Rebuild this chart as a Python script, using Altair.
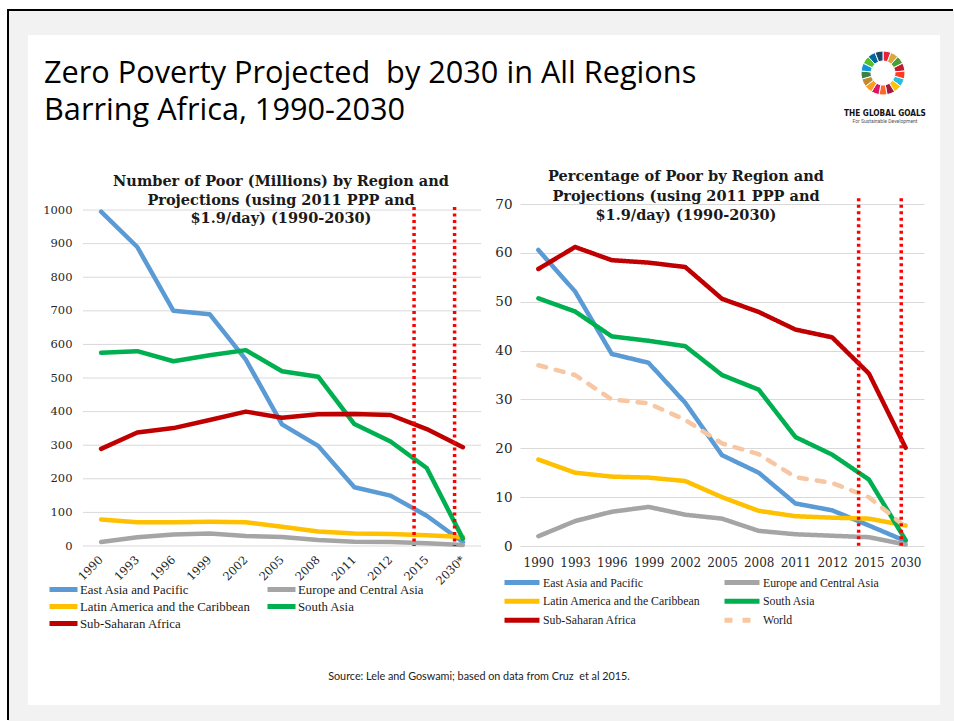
import altair as alt
import pandas as pd

# ---------------- data ----------------
years_left = ["1990", "1993", "1996", "1999", "2002", "2005", "2008", "2011", "2012", "2015", "2030*"]
years_right = ["1990", "1993", "1996", "1999", "2002", "2005", "2008", "2011", "2012", "2015", "2030"]

series_left = ["East Asia and Pacific", "Europe and Central Asia",
               "Latin America and the Caribbean", "South Asia", "Sub-Saharan Africa"]
series_right = series_left + ["World"]

# Number of poor (millions)
poor_eap = [995, 890, 700, 690, 555, 362, 298, 175, 150, 90, 12]
poor_eca = [12, 26, 34, 37, 30, 27, 18, 13, 12, 8, 3]
poor_lac = [79, 71, 71, 72, 71, 57, 43, 37, 36, 32, 27]
poor_sa = [575, 580, 550, 568, 583, 520, 504, 363, 311, 232, 22]
poor_ssa = [289, 338, 351, 375, 400, 382, 392, 393, 390, 348, 294]

# Percentage of poor
pct_eap = [60.6, 52.1, 39.3, 37.5, 29.3, 18.6, 15.0, 8.7, 7.3, 4.2, 1.0]
pct_eca = [2.0, 5.1, 7.0, 8.0, 6.4, 5.6, 3.1, 2.4, 2.1, 1.8, 0.3]
pct_lac = [17.7, 15.0, 14.2, 14.0, 13.3, 10.0, 7.2, 6.1, 5.8, 5.6, 4.2]
pct_sa = [50.7, 48.0, 42.9, 42.0, 40.9, 35.0, 32.0, 22.3, 18.7, 13.6, 1.2]
pct_ssa = [56.7, 61.2, 58.5, 58.0, 57.1, 50.6, 47.9, 44.3, 42.7, 35.3, 20.1]
pct_world = [37.0, 35.0, 30.0, 29.2, 25.8, 21.0, 18.8, 14.1, 12.9, 10.0, 3.9]

ticks_left = list(range(0, 1001, 100))
ticks_right = list(range(0, 71, 10))

# projection markers (position on category axis, top value)
proj_left_pos = [8.65, 9.77]
proj_left_top = [1009, 1009]
proj_right_pos = [8.72, 9.88]
proj_right_top = [71.2, 71.2]

main_title = "Zero Poverty Projected \u00a0by 2030 in All Regions\nBarring Africa, 1990-2030"
left_title = "Number of Poor (Millions) by Region and\nProjections (using 2011 PPP and\n$1.9/day) (1990-2030)"
right_title = "Percentage of Poor by Region and\nProjections (using 2011 PPP and\n$1.9/day) (1990-2030)"
source_text = "Source: Lele and Goswami; based on data from Cruz \u00a0et al 2015."
logo_title = "THE GLOBAL GOALS"
logo_sub = "For Sustainable Development"

# ---------------- styles ----------------
line_colors = ["#5B9BD5", "#A5A5A5", "#FFC000", "#00B050", "#C00000", "#F7C6A3"]
sdg_colors = ["#E5243B", "#DDA63A", "#4C9F38", "#C5192D", "#FF3A21", "#26BDE2",
              "#FCC30B", "#A21942", "#FD6925", "#DD1367", "#FD9D24", "#BF8B2E",
              "#3F7E44", "#0A97D9", "#56C02B", "#00689D", "#19486A"]

OX_L, OY = 83, 204
OX_R = 520
W_L, W_R, H = 398, 404, 342


def px(x):
    return x - OX_L


def py(y):
    return y - OY


def long_df(series, values_list, years):
    rows = []
    for s, vals in zip(series, values_list):
        for i, (yr, v) in enumerate(zip(years, vals)):
            rows.append({"idx": i, "year": yr, "series": s, "value": v})
    return pd.DataFrame(rows)


def label_expr(years):
    return "[" + ",".join("'%s'" % y for y in years) + "][datum.value]"


left_df = long_df(series_left, [poor_eap, poor_eca, poor_lac, poor_sa, poor_ssa], years_left)
right_df = long_df(series_right, [pct_eap, pct_eca, pct_lac, pct_sa, pct_ssa, pct_world], years_right)
proj_left = pd.DataFrame({"pos": proj_left_pos, "top": proj_left_top, "bottom": [0, 0]})
proj_right = pd.DataFrame({"pos": proj_right_pos, "top": proj_right_top, "bottom": [0, 0]})

one = pd.DataFrame({"k": [0]})
SERIF = "DejaVu Serif"

# ---------------- scales & axes ----------------
x_scale_left = alt.Scale(domain=[-0.5, 10.5], nice=False, zero=False)
y_scale_left = alt.Scale(domain=[0, 1018], nice=False, zero=True)
x_scale_right = alt.Scale(domain=[-0.5, 10.5], nice=False, zero=False)
y_scale_right = alt.Scale(domain=[0, 70], nice=False, zero=True)

x_axis_left = alt.Axis(values=list(range(11)), labelExpr=label_expr(years_left),
                       labelAngle=315, labelAlign="right", labelBaseline="middle",
                       labelPadding=12, grid=False, domain=False, ticks=False, tickSize=0,
                       labelFont=SERIF, labelFontSize=11.5, labelColor="#262626",
                       labelOverlap=False, labelFlush=False, title=None, zindex=1)
y_axis_left = alt.Axis(values=ticks_left, format="d", grid=False, domain=False,
                       ticks=False, tickSize=0,
                       labelFont=SERIF, labelFontSize=11.5, labelColor="#262626",
                       labelPadding=11, labelOverlap=False, title=None, zindex=1)
x_axis_right = alt.Axis(values=list(range(11)), labelExpr=label_expr(years_right),
                        labelAngle=0, labelAlign="center", labelBaseline="top",
                        labelPadding=11, grid=False, domain=False, ticks=False, tickSize=0,
                        labelFont=SERIF, labelFontSize=12, labelColor="#262626",
                        labelOverlap=False, labelFlush=False, title=None)
y_axis_right = alt.Axis(values=ticks_right, format="d", grid=True, gridColor="#D9D9D9",
                        gridWidth=1, domain=False, ticks=False, tickSize=0,
                        labelFont=SERIF, labelFontSize=13.5, labelColor="#262626",
                        labelPadding=8, labelOverlap=False, title=None)


def XL(f):
    return alt.X(f + ":Q", scale=x_scale_left, axis=x_axis_left)


def YL(f):
    return alt.Y(f + ":Q", scale=y_scale_left, axis=y_axis_left)


def XR(f):
    return alt.X(f + ":Q", scale=x_scale_right, axis=x_axis_right)


def YR(f):
    return alt.Y(f + ":Q", scale=y_scale_right, axis=y_axis_right)


# ---------------- decorations (drawn in the left panel's layer) ----------------
bg_white = alt.Chart(one).mark_rect(color="white").encode(
    x=alt.value(px(0)), x2=alt.value(px(954)), y=alt.value(py(0)), y2=alt.value(py(721)))
bg_gray = alt.Chart(one).mark_rect(color="#F2F2F2").encode(
    x=alt.value(px(8)), x2=alt.value(px(954)), y=alt.value(py(11)), y2=alt.value(py(721)))
border_top = alt.Chart(one).mark_rule(color="black", strokeWidth=2).encode(
    x=alt.value(px(7)), x2=alt.value(px(953)), y=alt.value(py(10)))
border_left = alt.Chart(one).mark_rule(color="black", strokeWidth=2).encode(
    x=alt.value(px(8)), y=alt.value(py(10)), y2=alt.value(py(720)))
panel = alt.Chart(one).mark_rect(color="white").encode(
    x=alt.value(px(28)), x2=alt.value(px(940)), y=alt.value(py(35)), y2=alt.value(py(705)))

title_main = alt.Chart(pd.DataFrame({"t": [main_title]})).mark_text(
    font="Open Sans", fontSize=30.7, align="left", baseline="alphabetic", lineBreak="\n",
    lineHeight=36.5, color="black").encode(
    text="t:N", x=alt.value(px(44)), y=alt.value(py(83)))

logo_df = pd.DataFrame({"v": [1] * len(sdg_colors), "c": sdg_colors, "o": list(range(len(sdg_colors)))})
logo_arcs = alt.Chart(logo_df).mark_arc(radius=22, radius2=12, stroke="white", strokeWidth=1).encode(
    theta=alt.Theta("v:Q", stack=True),
    order=alt.Order("o:Q"),
    fill=alt.Fill("c:N", scale=None),
    x=alt.value(px(883)), y=alt.value(py(73)))
logo_t = alt.Chart(pd.DataFrame({"t": [logo_title]})).mark_text(
    font="Liberation Sans Narrow, DejaVu Sans Condensed, Roboto", fontSize=8.2, fontWeight="bold",
    align="center", baseline="alphabetic", color="#111111").encode(
    text="t:N", x=alt.value(px(885)), y=alt.value(py(116)))
logo_s = alt.Chart(pd.DataFrame({"t": [logo_sub]})).mark_text(
    font="Roboto", fontSize=5, align="center", baseline="alphabetic", color="#555555").encode(
    text="t:N", x=alt.value(px(885)), y=alt.value(py(123)))

source = alt.Chart(pd.DataFrame({"t": [source_text]})).mark_text(
    font="Lato", fontSize=10.8, align="center", baseline="middle", color="#222222").encode(
    text="t:N", x=alt.value(px(479)), y=alt.value(py(677)))

# ---------------- left panel ----------------
lt = alt.Chart(pd.DataFrame({"t": [left_title]})).mark_text(
    font=SERIF, fontSize=14.5, fontWeight="bold", align="center", baseline="top",
    lineBreak="\n", lineHeight=18.5, color="#1a1a1a").encode(
    text="t:N", x=alt.value(281 - OX_L), y=alt.value(175 - OY))

grid_left = alt.Chart(pd.DataFrame({"value": ticks_left})).mark_rule(
    color="#D9D9D9", strokeWidth=1).encode(
    y=YL("value"), x=alt.value(0), x2=alt.value(W_L))

lines_left = alt.Chart(left_df).mark_line(strokeWidth=4.5, strokeCap="round", strokeJoin="round").encode(
    x=XL("idx"), y=YL("value"),
    color=alt.Color("series:N", scale=alt.Scale(domain=series_left, range=line_colors[:5]),
                    legend=alt.Legend(orient="none", legendX=-36, legendY=377, columns=2,
                                      direction="horizontal",
                                      symbolType="stroke", symbolSize=784, symbolStrokeWidth=5,
                                      labelFont="Liberation Serif", labelFontSize=12.8,
                                      labelColor="#1a1a1a", labelOffset=0, columnPadding=14,
                                      rowPadding=0, clipHeight=17, padding=0, title=None,
                                      labelLimit=400)),
    order=alt.Order("idx:Q"))

dots_left = alt.Chart(proj_left).mark_rule(color="#FF0000", strokeWidth=3.5, strokeDash=[3, 3.5]).encode(
    x=XL("pos"), y=YL("top"), y2="bottom:Q")

left = alt.layer(bg_white, bg_gray, border_top, border_left, panel, title_main,
                 logo_arcs, logo_t, logo_s, source, lt, grid_left, lines_left, dots_left).properties(
    width=W_L, height=H)

# ---------------- right panel ----------------
rt = alt.Chart(pd.DataFrame({"t": [right_title]})).mark_text(
    font=SERIF, fontSize=14.5, fontWeight="bold", align="center", baseline="top",
    lineBreak="\n", lineHeight=19.5, color="#1a1a1a").encode(
    text="t:N", x=alt.value(686 - OX_R), y=alt.value(170 - OY))

legend_right = alt.Legend(orient="none", legendX=-18, legendY=369, columns=2,
                          direction="horizontal",
                          symbolType="stroke", symbolSize=1225, symbolStrokeWidth=5,
                          labelFont="Liberation Serif", labelFontSize=11.8,
                          labelColor="#1a1a1a", labelOffset=1, columnPadding=21,
                          rowPadding=0, clipHeight=18.5, padding=0, title=None, labelLimit=400)

lines_right = alt.Chart(right_df).mark_line(strokeWidth=4.5, strokeCap="round", strokeJoin="round").encode(
    x=XR("idx"), y=YR("value"),
    color=alt.Color("series:N", scale=alt.Scale(domain=series_right, range=line_colors),
                    legend=legend_right),
    strokeDash=alt.StrokeDash("series:N",
                              scale=alt.Scale(domain=series_right,
                                              range=[[1, 0]] * 5 + [[8, 10]]),
                              legend=legend_right),
    order=alt.Order("idx:Q"))

dots_right = alt.Chart(proj_right).mark_rule(color="#FF0000", strokeWidth=3.5, strokeDash=[3, 3.5]).encode(
    x=XR("pos"), y=YR("top"), y2="bottom:Q")

right = alt.layer(rt, lines_right, dots_right).properties(width=W_R, height=H)

chart = alt.hconcat(left, right, spacing=OX_R - (OX_L + W_L), bounds="flush").resolve_scale(
    color="independent", strokeDash="independent", x="independent", y="independent"
).resolve_legend(color="independent", strokeDash="independent").properties(
    padding=0, autosize=alt.AutoSizeParams(type="pad"), background="white"
).configure_view(stroke=None)

chart.save("out.html", embed_options={"renderer": "svg", "actions": False})
